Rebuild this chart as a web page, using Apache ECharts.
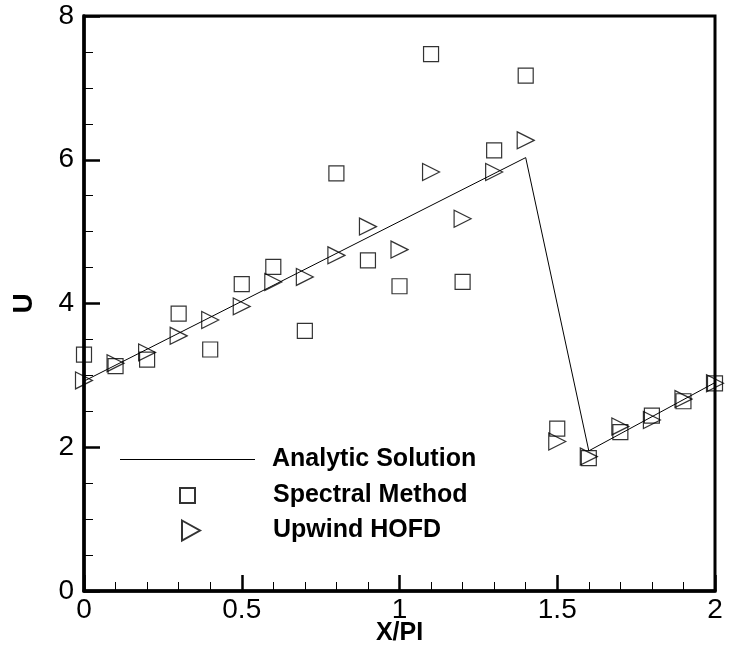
<!DOCTYPE html>
<html>
<head>
<meta charset="utf-8">
<script src="https://cdn.jsdelivr.net/npm/echarts@6/dist/echarts.min.js"></script>
<style>
  html, body { margin: 0; padding: 0; background: #fff; }
  #chart { width: 730px; height: 655px; }
</style>
</head>
<body>
<div id="chart"></div>
<script>
// x positions of the sample points (in units of PI)
const xSamples = [0, 0.1, 0.2, 0.3, 0.4, 0.5, 0.6, 0.7, 0.8, 0.9, 1.0,
                  1.1, 1.2, 1.3, 1.4, 1.5, 1.6, 1.7, 1.8, 1.9, 2.0];
const spectralU = [3.29, 3.13, 3.22, 3.86, 3.36, 4.27, 4.51, 3.62, 5.81, 4.60, 4.24,
                   7.47, 4.30, 6.13, 7.17, 2.26, 1.85, 2.21, 2.44, 2.64, 2.89];
const upwindU = [2.93, 3.17, 3.32, 3.55, 3.77, 3.96, 4.30, 4.37, 4.67, 5.07, 4.75,
                 5.83, 5.18, 5.83, 6.27, 2.08, 1.87, 2.29, 2.38, 2.67, 2.89];
// analytic solution corners
const analyticX = [0, 1.4, 1.6, 2];
const analyticU = [2.92, 6.03, 1.95, 2.9];
const seriesNames = ['Analytic Solution', 'Spectral Method', 'Upwind HOFD'];

const font = '"Liberation Sans", Arial, Helvetica, sans-serif';

const zip = (xs, ys) => xs.map((x, i) => [x, ys[i]]);

const chart = echarts.init(document.getElementById('chart'));

const axisCommon = {
    type: 'value',
    nameLocation: 'middle',
    nameMoveOverlap: false,
    nameTextStyle: {color: '#000', fontFamily: font, fontWeight: 'bold', fontSize: 25},
    axisLine: {show: true, onZero: false, lineStyle: {color: '#000', width: 3.5}},
    axisTick: {show: true, inside: true, length: 16, lineStyle: {color: '#000', width: 2.5}},
    minorTick: {show: true, length: 9, lineStyle: {color: '#000', width: 1}},
    axisLabel: {color: '#000', fontFamily: font, fontSize: 28},
    splitLine: {show: false},
    minorSplitLine: {show: false}
};

// one legend block per entry, so each icon keeps its own size
const legendText = pad => ({
    color: '#000', fontFamily: font, fontWeight: 'bold', fontSize: 25, padding: [0, 0, 0, pad]
});
const legends = [
    {left: 115, top: 442, itemWidth: 135, itemHeight: 1, icon: 'rect', pad: 12},
    {left: 174, top: 478, itemWidth: 15, itemHeight: 15, icon: 'rect', pad: 73},
    {left: 176, top: 513, itemWidth: 18, itemHeight: 20, icon: 'path://M0,0L18,10L0,20Z', pad: 68}
].map((l, i) => ({
    orient: 'vertical',
    left: l.left,
    top: l.top,
    itemWidth: l.itemWidth,
    itemHeight: l.itemHeight,
    selectedMode: false,
    data: [{name: seriesNames[i], icon: l.icon}],
    textStyle: legendText(l.pad)
}));

const option = {
    animation: false,
    backgroundColor: '#fff',
    grid: {
        left: 84, right: 15, top: 16, bottom: 64,
        outerBoundsMode: 'none',
        containLabel: false,
        show: true, borderColor: '#000', borderWidth: 3, backgroundColor: 'transparent'
    },
    xAxis: Object.assign({}, axisCommon, {
        min: 0, max: 2, interval: 0.5,
        name: 'X/PI', nameGap: 30,
        minorTick: Object.assign({}, axisCommon.minorTick, {splitNumber: 5}),
        axisLabel: Object.assign({}, axisCommon.axisLabel, {margin: 5})
    }),
    yAxis: Object.assign({}, axisCommon, {
        min: 0, max: 8, interval: 2,
        name: 'U', nameGap: 46,
        nameTextStyle: Object.assign({}, axisCommon.nameTextStyle, {fontSize: 28}),
        minorTick: Object.assign({}, axisCommon.minorTick, {splitNumber: 4}),
        axisLabel: Object.assign({}, axisCommon.axisLabel, {margin: 10})
    }),
    legend: legends,
    series: [
        {
            name: seriesNames[0],
            type: 'line',
            data: zip(analyticX, analyticU),
            showSymbol: false,
            symbol: 'none',
            lineStyle: {color: '#000', width: 1},
            itemStyle: {color: '#000'}
        },
        {
            name: seriesNames[1],
            type: 'scatter',
            data: zip(xSamples, spectralU),
            symbol: 'rect',
            symbolSize: 15,
            itemStyle: {color: 'transparent', borderColor: '#000', borderWidth: 1.2}
        },
        {
            name: seriesNames[2],
            type: 'scatter',
            data: zip(xSamples, upwindU),
            symbol: 'triangle',
            symbolSize: 17,
            symbolRotate: -90,
            itemStyle: {color: 'transparent', borderColor: '#000', borderWidth: 1.2}
        }
    ]
};

chart.setOption(option);
</script>
</body>
</html>
